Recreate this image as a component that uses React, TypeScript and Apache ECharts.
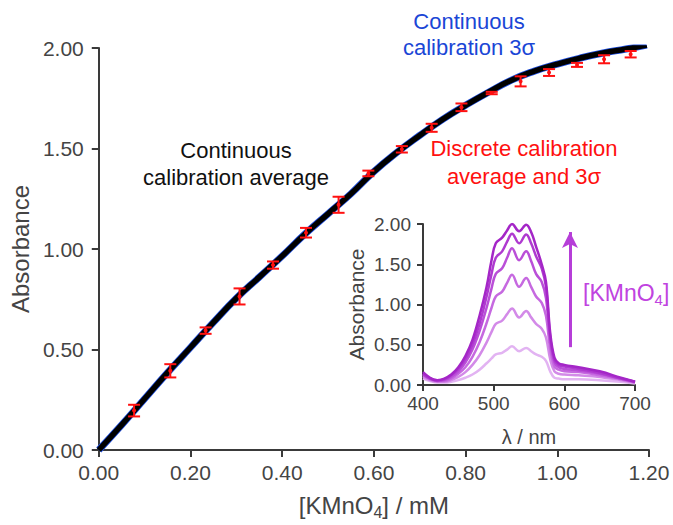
import React, { useEffect, useRef } from "react";
import * as echarts from "echarts";

// Continuous calibration (average) – [KMnO4] / mM vs absorbance
const calX = [0, 0.05, 0.1, 0.15, 0.2, 0.25, 0.3, 0.35, 0.4, 0.45, 0.5, 0.55, 0.6, 0.65, 0.7, 0.75, 0.8, 0.85, 0.9, 0.95, 1.0, 1.05, 1.1, 1.15, 1.195];
const calY = [0, 0.125, 0.255, 0.385, 0.51, 0.635, 0.755, 0.86, 0.965, 1.075, 1.175, 1.275, 1.385, 1.48, 1.565, 1.645, 1.715, 1.78, 1.84, 1.885, 1.92, 1.95, 1.975, 1.995, 2.015];

// Discrete calibration: average and 3σ
const discX = [0.077, 0.156, 0.233, 0.307, 0.38, 0.452, 0.523, 0.588, 0.661, 0.726, 0.791, 0.857, 0.92, 0.982, 1.043, 1.102, 1.16];
const discY = [0.196, 0.394, 0.594, 0.764, 0.92, 1.081, 1.22, 1.376, 1.496, 1.603, 1.705, 1.776, 1.834, 1.878, 1.916, 1.944, 1.969];
const discErr = [0.029, 0.033, 0.016, 0.04, 0.018, 0.024, 0.04, 0.014, 0.016, 0.02, 0.019, 0.006, 0.025, 0.017, 0.01, 0.02, 0.016];

// Inset spectra
const wavelengths = [400, 410, 420, 430, 440, 450, 460, 470, 480, 490, 497, 503, 512, 519, 526, 536, 546, 553, 560, 568, 574, 580, 586, 592, 600, 620, 650, 680, 700];
const spec1 = [0.08, 0.05, 0.03, 0.03, 0.04, 0.06, 0.09, 0.13, 0.19, 0.27, 0.33, 0.38, 0.40, 0.44, 0.48, 0.42, 0.46, 0.42, 0.38, 0.35, 0.30, 0.17, 0.09, 0.08, 0.07, 0.07, 0.06, 0.04, 0.02];
const spec2 = [0.10, 0.06, 0.04, 0.04, 0.06, 0.10, 0.16, 0.25, 0.37, 0.53, 0.66, 0.76, 0.80, 0.88, 0.95, 0.84, 0.92, 0.84, 0.76, 0.70, 0.59, 0.32, 0.17, 0.14, 0.13, 0.12, 0.10, 0.06, 0.03];
const spec3 = [0.12, 0.07, 0.05, 0.05, 0.08, 0.14, 0.22, 0.35, 0.53, 0.77, 0.96, 1.10, 1.16, 1.27, 1.37, 1.22, 1.33, 1.22, 1.10, 1.02, 0.86, 0.45, 0.23, 0.19, 0.17, 0.16, 0.12, 0.07, 0.03];
const spec4 = [0.13, 0.08, 0.05, 0.06, 0.10, 0.17, 0.28, 0.44, 0.67, 0.96, 1.20, 1.38, 1.45, 1.58, 1.70, 1.55, 1.66, 1.54, 1.38, 1.28, 1.08, 0.55, 0.28, 0.22, 0.20, 0.18, 0.14, 0.08, 0.04];
const spec5 = [0.14, 0.08, 0.06, 0.07, 0.12, 0.20, 0.32, 0.50, 0.76, 1.10, 1.38, 1.58, 1.66, 1.78, 1.88, 1.76, 1.87, 1.76, 1.60, 1.45, 1.22, 0.60, 0.31, 0.25, 0.23, 0.20, 0.15, 0.08, 0.04];
const spec6 = [0.16, 0.09, 0.06, 0.08, 0.13, 0.22, 0.36, 0.56, 0.86, 1.22, 1.55, 1.76, 1.83, 1.92, 2.00, 1.91, 1.99, 1.90, 1.72, 1.50, 1.28, 0.65, 0.34, 0.27, 0.25, 0.22, 0.17, 0.09, 0.04];
const spectra = [spec1, spec2, spec3, spec4, spec5, spec6];
const specColors = ["#e2b3f2", "#d38ae8", "#c669e0", "#ba4fd8", "#af3ad0", "#a426c7"];

const arrowX = 608;
const arrowFrom = 0.47;
const arrowTo = 1.9;

const FONT = "'Liberation Sans', Arial, sans-serif";
const AX = "#3a3a3a";
const LBL = "#444444";

export default function App() {
  const ref = useRef<HTMLDivElement>(null);
  useEffect(() => {
    if (!ref.current) return;
    const chart = echarts.init(ref.current, undefined, { renderer: "svg" });
    const axisCommon = {
      type: "value",
      axisLine: { show: true, lineStyle: { color: AX, width: 2 } },
      axisTick: { show: true, inside: false, lineStyle: { color: AX, width: 2 } },
      splitLine: { show: false },
    };
    const calData = calX.map((x, i) => [x, calY[i]]);
    const option: any = {
      animation: false,
      backgroundColor: "#ffffff",
      textStyle: { fontFamily: FONT },
      grid: [
        { left: 97, right: 24, top: 48, bottom: 72 },
        { left: 423, right: 38, top: 224, bottom: 140 },
      ],
      xAxis: [
        {
          ...axisCommon,
          gridIndex: 0,
          min: 0,
          max: 1.2,
          interval: 0.2,
          axisTick: { ...axisCommon.axisTick, length: 7 },
          axisLabel: { formatter: (v: number) => v.toFixed(2), fontSize: 21, color: LBL, margin: 12, fontFamily: FONT },
          name: "{a|[KMnO}{s|4}{a|] / mM}",
          nameLocation: "middle",
          nameGap: 40,
          nameTextStyle: {
            color: LBL,
            fontFamily: FONT,
            rich: {
              a: { fontSize: 24, color: LBL, fontFamily: FONT },
              s: { fontSize: 16, color: LBL, fontFamily: FONT, padding: [14, 0, 0, 0] },
            },
          },
        },
        {
          ...axisCommon,
          gridIndex: 1,
          min: 400,
          max: 700,
          interval: 100,
          axisTick: { ...axisCommon.axisTick, length: 6 },
          axisLabel: { fontSize: 19, color: LBL, margin: 9, fontFamily: FONT },
          name: "λ / nm",
          nameLocation: "middle",
          nameGap: 42,
          nameTextStyle: { fontSize: 20, color: LBL, fontFamily: FONT },
        },
      ],
      yAxis: [
        {
          ...axisCommon,
          gridIndex: 0,
          min: 0,
          max: 2,
          interval: 0.5,
          axisTick: { ...axisCommon.axisTick, length: 7 },
          axisLabel: { formatter: (v: number) => v.toFixed(2), fontSize: 21, color: LBL, margin: 15, fontFamily: FONT },
          name: "Absorbance",
          nameLocation: "middle",
          nameGap: 64,
          nameTextStyle: { fontSize: 24, color: LBL, fontFamily: FONT },
        },
        {
          ...axisCommon,
          gridIndex: 1,
          min: 0,
          max: 2,
          interval: 0.5,
          axisTick: { ...axisCommon.axisTick, length: 6 },
          axisLabel: { formatter: (v: number) => v.toFixed(2), fontSize: 19, color: LBL, margin: 12, fontFamily: FONT },
          name: "Absorbance",
          nameLocation: "middle",
          nameGap: 56,
          nameTextStyle: { fontSize: 21, color: LBL, fontFamily: FONT },
        },
      ],
      series: [
        {
          type: "line",
          xAxisIndex: 0,
          yAxisIndex: 0,
          data: calData,
          smooth: true,
          showSymbol: false,
          lineStyle: { color: "#1f4fe0", width: 7 },
          z: 2,
        },
        {
          type: "line",
          xAxisIndex: 0,
          yAxisIndex: 0,
          data: calData,
          smooth: true,
          showSymbol: false,
          lineStyle: { color: "#000000", width: 5.5 },
          z: 3,
        },
        {
          type: "custom",
          xAxisIndex: 0,
          yAxisIndex: 0,
          z: 5,
          data: discX.map((x, i) => [x, discY[i], discErr[i]]),
          encode: { x: 0, y: 1 },
          renderItem: (params: any, api: any) => {
            const x = api.value(0);
            const y = api.value(1);
            const e = api.value(2);
            const lo = api.coord([x, y - e]);
            const hi = api.coord([x, y + e]);
            const c = api.coord([x, y]);
            const w = 6;
            const st = { stroke: "#ff1010", lineWidth: 2 };
            return {
              type: "group",
              children: [
                { type: "line", shape: { x1: lo[0], y1: lo[1], x2: hi[0], y2: hi[1] }, style: st },
                { type: "line", shape: { x1: lo[0] - w, y1: lo[1], x2: lo[0] + w, y2: lo[1] }, style: st },
                { type: "line", shape: { x1: hi[0] - w, y1: hi[1], x2: hi[0] + w, y2: hi[1] }, style: st },
                { type: "circle", shape: { cx: c[0], cy: c[1], r: 2 }, style: { fill: "#ff1010" } },
              ],
            };
          },
        },
        ...spectra.map((s, k) => ({
          type: "line",
          xAxisIndex: 1,
          yAxisIndex: 1,
          data: wavelengths.map((w, i) => [w, s[i]]),
          smooth: 0.4,
          showSymbol: false,
          lineStyle: { color: specColors[k], width: 2.5 },
          z: 2 + k,
          markLine:
            k === spectra.length - 1
              ? {
                  silent: true,
                  symbol: ["none", "arrow"],
                  symbolSize: [12, 16],
                  label: { show: false },
                  lineStyle: { color: "#b63ed8", width: 3, type: "solid" },
                  data: [[{ coord: [arrowX, arrowFrom] }, { coord: [arrowX, arrowTo] }]],
                }
              : undefined,
        })),
      ],
      graphic: [
        {
          type: "text",
          left: 583,
          top: 281,
          style: {
            text: "{a|[KMnO}{s|4}{a|]}",
            fill: "#c043e0",
            fontFamily: FONT,
            rich: {
              a: { fontSize: 23, fill: "#c043e0", fontFamily: FONT },
              s: { fontSize: 15, fill: "#c043e0", fontFamily: FONT, padding: [13, 0, 0, 0] },
            },
          },
        },
        {
          type: "text",
          x: 469,
          y: 34,
          style: {
            text: "Continuous\ncalibration 3σ",
            fill: "#1a46d6",
            font: `22px ${FONT}`,
            align: "center",
            verticalAlign: "middle",
            lineHeight: 26,
          },
        },
        {
          type: "text",
          x: 236,
          y: 164,
          style: {
            text: "Continuous\ncalibration average",
            fill: "#111111",
            font: `22px ${FONT}`,
            align: "center",
            verticalAlign: "middle",
            lineHeight: 27,
          },
        },
        {
          type: "text",
          x: 524,
          y: 162,
          style: {
            text: "Discrete calibration\naverage and 3σ",
            fill: "#ff1010",
            font: `22px ${FONT}`,
            align: "center",
            verticalAlign: "middle",
            lineHeight: 28,
          },
        },
      ],
    };
    chart.setOption(option);
    return () => chart.dispose();
  }, []);
  return (
    <div
      ref={ref}
      style={{ position: "fixed", left: 0, top: 0, width: 673, height: 525 }}
    />
  );
}
